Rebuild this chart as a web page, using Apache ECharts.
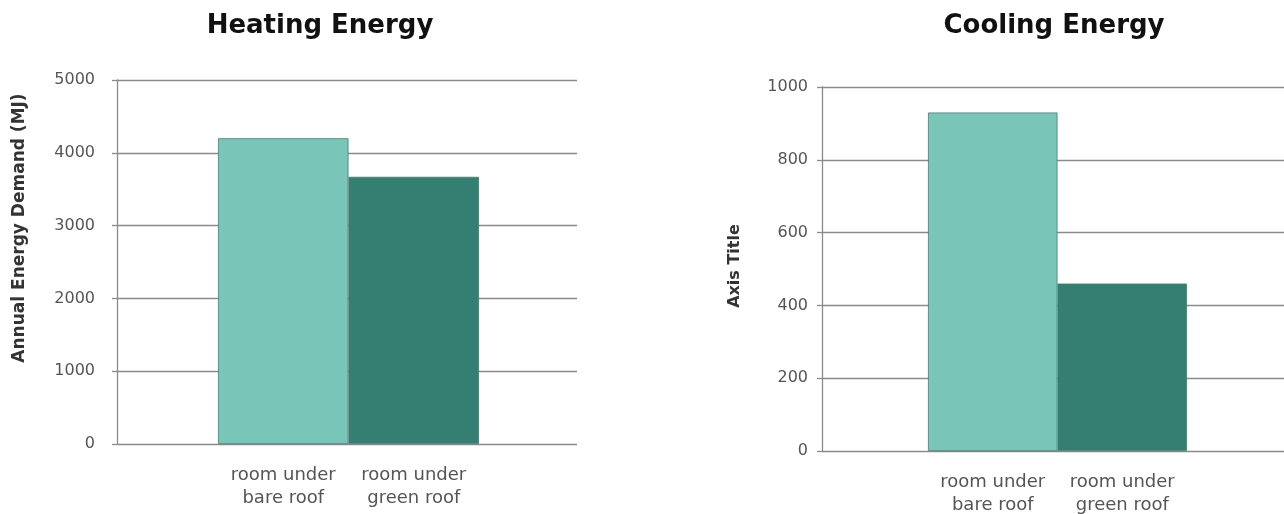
<!DOCTYPE html>
<html>
<head>
<meta charset="utf-8">
<script src="https://cdn.jsdelivr.net/npm/echarts@6/dist/echarts.min.js"></script>
<style>
  html, body { margin: 0; padding: 0; background: #fff; }
  #chart { width: 1284px; height: 514px; }
</style>
</head>
<body>
<div id="chart"></div>
<script>
// ---- data ----
const categories = ['room under\nbare roof', 'room under\ngreen roof'];
const heatingValues = [4200, 3670];
const coolingValues = [930, 460];
const heatingTitle = 'Heating Energy';
const coolingTitle = 'Cooling Energy';
const heatingAxisName = 'Annual Energy Demand (MJ)';
const coolingAxisName = 'Axis Title';
const heatingTicks = { min: 0, max: 5000, interval: 1000 };
const coolingTicks = { min: 0, max: 1000, interval: 200 };

// ---- styles ----
const barColors = ['#79C6B8', '#347F71'];
const gridColor = '#8a8a8a';
const font = '"DejaVu Sans", sans-serif';

const chart = echarts.init(document.getElementById('chart'), null, { renderer: 'canvas' });

function bgYAxis(gridIndex, ticks, labelMargin) {
  return {
    gridIndex, type: 'value', min: ticks.min, max: ticks.max, interval: ticks.interval,
    axisLine: { show: true, lineStyle: { color: gridColor, width: 1.3 } },
    axisTick: { show: true, length: 5, lineStyle: { color: gridColor, width: 1.3 } },
    splitLine: { show: true, lineStyle: { color: gridColor, width: 1.3 } },
    axisLabel: { margin: labelMargin, fontFamily: font, fontSize: 16, color: '#555',
                 formatter: v => String(v) }
  };
}
function barYAxis(gridIndex, ticks) {
  return { gridIndex, type: 'value', min: ticks.min, max: ticks.max, interval: ticks.interval, show: false };
}
function barXAxis(gridIndex) {
  return {
    gridIndex, type: 'category', data: categories,
    axisLine: { show: false }, axisTick: { show: false },
    axisLabel: { interval: 0, hideOverlap: false, margin: 20, fontFamily: font, fontSize: 18,
                 lineHeight: 23, color: '#555' }
  };
}
function barSeries(axisIndex, values) {
  return {
    type: 'bar', xAxisIndex: axisIndex, yAxisIndex: axisIndex,
    barCategoryGap: '0%',
    data: values,
    itemStyle: {
      color: p => barColors[p.dataIndex],
      borderColor: '#4a7a70', borderWidth: 0.8
    },
    silent: true
  };
}
function axisTitle(text, x, y, size) {
  return {
    type: 'text', x, y, rotation: Math.PI / 2, silent: true,
    style: { text, fill: '#333', font: 'bold ' + size + 'px "DejaVu Sans", sans-serif',
             align: 'center', verticalAlign: 'middle' }
  };
}
function grid(left, top, width, height) {
  return { left, top, width, height, containLabel: false, outerBoundsMode: 'none' };
}

chart.setOption({
  animation: false,
  backgroundColor: '#fff',
  title: [
    { text: heatingTitle, left: 315, top: 8, textAlign: 'center',
      textStyle: { fontFamily: font, fontWeight: 'bold', fontSize: 26, color: '#111' } },
    { text: coolingTitle, left: 1049, top: 8, textAlign: 'center',
      textStyle: { fontFamily: font, fontWeight: 'bold', fontSize: 26, color: '#111' } }
  ],
  grid: [
    grid(117, 80, 460, 364),
    grid(218, 80, 261, 364),
    grid(822, 87, 480, 364),
    grid(928, 87, 259, 364)
  ],
  xAxis: [
    { gridIndex: 0, type: 'category', data: [''], show: false },
    barXAxis(1),
    { gridIndex: 2, type: 'category', data: [''], show: false },
    barXAxis(3)
  ],
  yAxis: [
    bgYAxis(0, heatingTicks, 22),
    barYAxis(1, heatingTicks),
    bgYAxis(2, coolingTicks, 14),
    barYAxis(3, coolingTicks)
  ],
  series: [
    barSeries(1, heatingValues),
    barSeries(3, coolingValues)
  ],
  graphic: [
    axisTitle(heatingAxisName, 20, 228, 17),
    axisTitle(coolingAxisName, 735, 266, 16)
  ]
});
</script>
</body>
</html>
